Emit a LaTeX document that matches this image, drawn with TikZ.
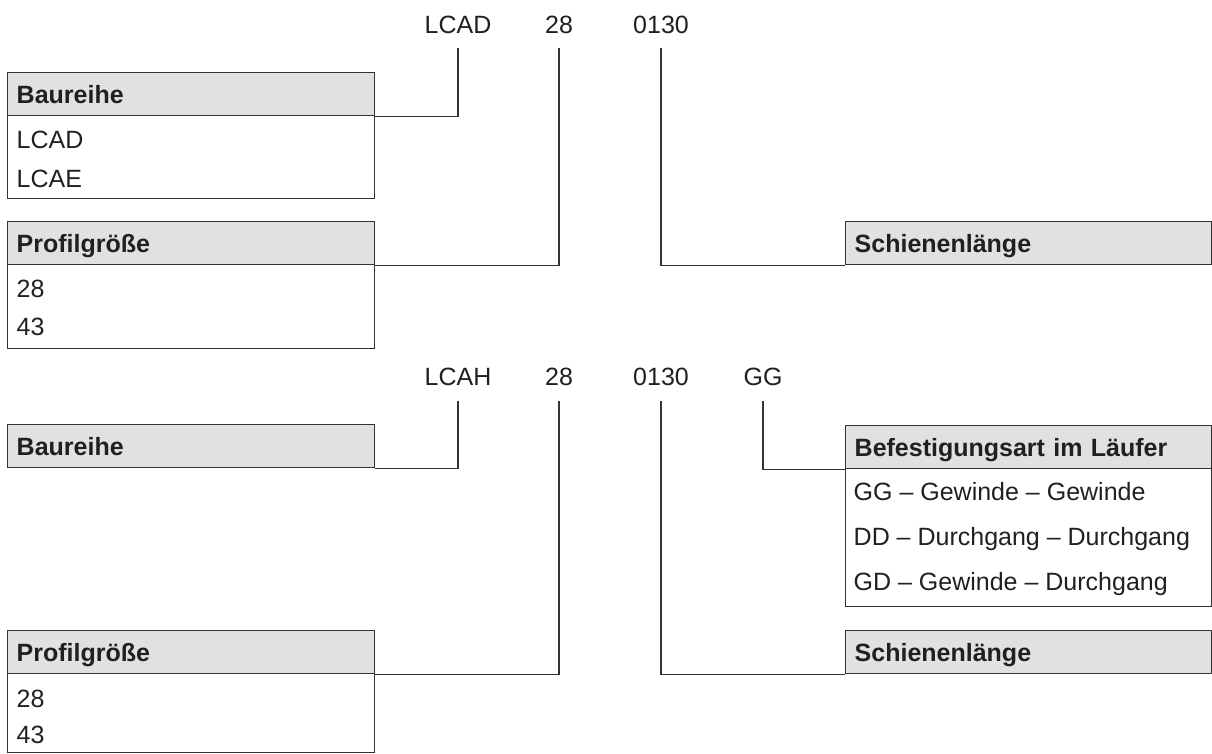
\documentclass[tikz,border=0pt]{standalone}
\usepackage{fontspec}
\setmainfont{Liberation Sans}
\definecolor{hdr}{HTML}{DFE1E3}
\definecolor{ln}{HTML}{333333}
\definecolor{tx}{HTML}{231F20}
\begin{document}
\begin{tikzpicture}[x=1pt,y=-1pt,line width=1.4pt,
  font=\fontsize{25}{30}\selectfont,
  every node/.style={text=tx},
  hdrbox/.style={draw=ln,fill=hdr,anchor=north west,inner xsep=9pt,inner ysep=0pt,
    minimum height=43pt,text height=18pt,text depth=0pt,align=left,
    font=\fontsize{25}{30}\selectfont\bfseries},
  lbox/.style={hdrbox,text width=349pt},
  rbox/.style={hdrbox,text width=348pt},
  bodybox/.style={draw=ln,anchor=north west,inner sep=0pt},
  row/.style={anchor=base west,inner sep=0pt},
  code/.style={anchor=base,inner sep=0pt},
  conn/.style={draw=ln,line width=1.4pt}]
\useasboundingbox (0,0) rectangle (1212,753);

% ---------- upper key: LCAD 28 0130 ----------
\node[code] (a1) at (458,33) {LCAD};
\node[code] (a2) at (559,33) {28};
\node[code] (a3) at (661,33) {0130};
\coordinate (av1) at (458,48);
\coordinate (av2) at (559,48);
\coordinate (av3) at (661,48);

\node[bodybox,minimum width=367pt,minimum height=83pt] (ab1) at (7,115) {};
\node[lbox] (ah1) at (7,72) {Baureihe};
\node[row] (ar11) at (16,148) {LCAD};
\node[row] (ar12) at (16,187) {LCAE};

\node[bodybox,minimum width=367pt,minimum height=84pt] (ab2) at (7,264) {};
\node[lbox] (ah2) at (7,221) {Profilgröße};
\node[row] (ar21) at (16,297) {28};
\node[row] (ar22) at (16,335) {43};

\node[rbox] (ah3) at (845,221) {Schienenlänge};

\draw[conn] (ah1.south east) -| (av1);
\draw[conn] (ah2.south east) -| (av2);
\draw[conn] (av3) |- (ah3.south west);

% ---------- lower key: LCAH 28 0130 GG ----------
\node[code] (b1) at (458,385) {LCAH};
\node[code] (b2) at (559,385) {28};
\node[code] (b3) at (661,385) {0130};
\node[code] (b4) at (763,385) {GG};
\coordinate (bv1) at (458,401);
\coordinate (bv2) at (559,401);
\coordinate (bv3) at (661,401);
\coordinate (bv4) at (763,401);

\node[lbox] (bh1) at (7,424) {Baureihe};

\node[bodybox,minimum width=367pt,minimum height=79pt] (bb2) at (7,673) {};
\node[lbox] (bh2) at (7,630) {Profilgröße};
\node[row] (br21) at (16,707) {28};
\node[row] (br22) at (16,743) {43};

\node[bodybox,minimum width=366pt,minimum height=138pt] (bb4) at (845,468) {};
\node[rbox] (bh4) at (845,425) {Befestigungsart im Läufer};
\node[row] (br41) at (853,500) {GG – Gewinde – Gewinde};
\node[row] (br42) at (853,545) {DD – Durchgang – Durchgang};
\node[row] (br43) at (853,590) {GD – Gewinde – Durchgang};

\node[rbox] (bh3) at (845,630) {Schienenlänge};

\draw[conn] (bh1.south east) -| (bv1);
\draw[conn] (bh2.south east) -| (bv2);
\draw[conn] (bv3) |- (bh3.south west);
\draw[conn] (bv4) |- (bh4.south west);
\end{tikzpicture}
\end{document}
